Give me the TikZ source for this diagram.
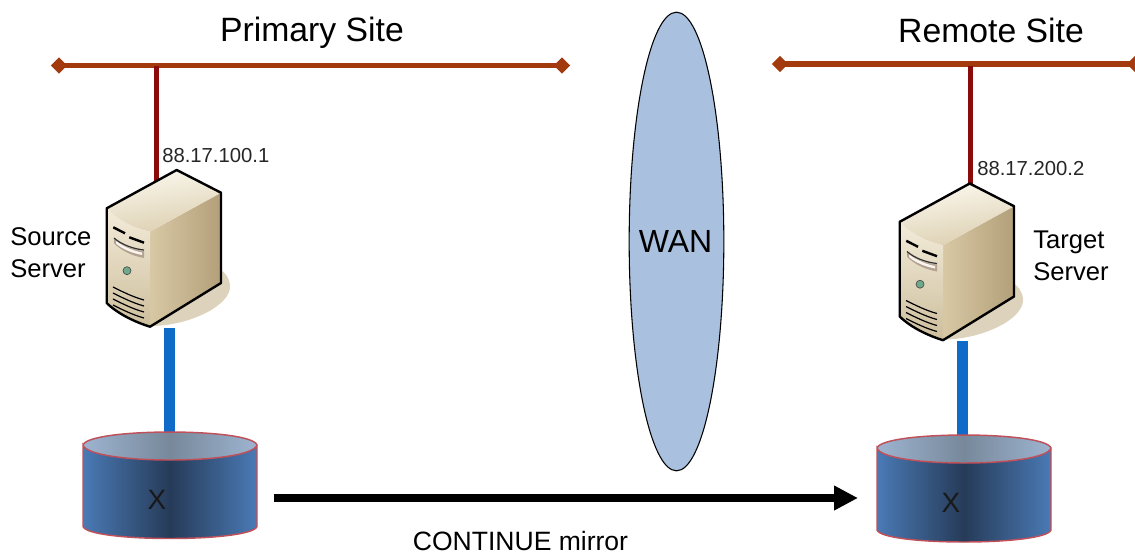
\documentclass[tikz,border=0pt]{standalone}
\usepackage{fontspec}
\setmainfont{Liberation Sans}
\usetikzlibrary{shapes.geometric,arrows.meta}
\definecolor{busc}{HTML}{A33A0E}
\definecolor{dropc}{HTML}{8B0A0A}
\definecolor{linkc}{HTML}{0F6BC8}
\definecolor{shadowc}{HTML}{DDD3BC}
\definecolor{toplight}{HTML}{FBF8EE}
\definecolor{topdark}{HTML}{DCCFB0}
\definecolor{sidedark}{HTML}{D8C8A4}
\definecolor{sidelight}{HTML}{B3A07A}
\definecolor{frontlight}{HTML}{F3ECDA}
\definecolor{frontdark}{HTML}{CDBE9C}
\definecolor{rimc}{HTML}{C0505A}
\definecolor{cyledge}{HTML}{4A7AB5}
\definecolor{cylmid}{HTML}{263B58}
\definecolor{capedge}{HTML}{9DB4D0}
\definecolor{capmid}{HTML}{77889A}
\definecolor{wanc}{HTML}{A9C0DE}
\definecolor{ledc}{HTML}{6FA98A}
\tikzset{
 x=0.75pt,y=-0.75pt,
 bus/.style={busc,line width=4pt},
 dropline/.style={dropc,line width=4pt},
 linkline/.style={linkc,line width=8pt},
 endmark/.style={diamond,fill=busc,minimum size=12.5pt,inner sep=0pt},
 title/.style={font=\fontsize{25.3}{30}\selectfont,inner sep=0pt},
 lab/.style={font=\fontsize{19.2}{24}\selectfont,align=left,inner sep=0pt},
 ip/.style={font=\fontsize{15.2}{18}\selectfont,inner sep=0pt,text=black!85},
 disklabel/.style={font=\fontsize{21}{25}\selectfont,inner sep=0pt,text=black!90},
 pics/server/.style={code={
  \fill[shadowc] (150,326) .. controls (190,326) and (232,305) .. (230,285) .. controls (228,270) and (215,265) .. (200,265) -- cycle;
  \shade[left color=sidedark,right color=sidelight] (150,231.7) -- (221,192.7) -- (221,283) -- (150,326.7) -- cycle;
  \shade[top color=frontlight,bottom color=frontdark] (106.7,208.3) .. controls (120,222) and (135,228) .. (150,231.7) -- (150,326.7) .. controls (135,322) and (118,314) .. (106.7,303) -- cycle;
  \shade[left color=toplight,right color=topdark,shading angle=10] (106.7,208.3) -- (176.7,170) -- (221,192.7) -- (150,231.7) .. controls (135,228) and (120,222) .. (106.7,208.3) -- cycle;
  \draw[black,line width=1.8pt,line join=round] (106.7,208.3) -- (176.7,170) -- (221,192.7) -- (221,283) -- (150,326.7) .. controls (135,322) and (118,314) .. (106.7,303) -- cycle;
  \draw[black,line width=1.8pt] (113.3,227.3) -- (125,233.3);
  \draw[black,line width=1.8pt] (129.3,237.3) -- (144,242.7);
  \fill[black!45!brown!50!white] (114,238) .. controls (122,246) and (134,250) .. (144,251) -- (144,258) .. controls (132,256) and (120,250) .. (114,243) -- cycle;
  \draw[black!80,line width=0.9pt] (114,238) .. controls (122,245) and (134,249) .. (144,250);
  \fill[white!92!brown] (116,241) .. controls (124,247) and (134,251) .. (142,252.5) -- (142,255) .. controls (132,253) and (122,249) .. (116,243.5) -- cycle;
  \fill[ledc,draw=black!70,line width=0.5pt] (127,270.7) circle (4);
  \foreach \d in {0,6,12,18}{\draw[black,line width=0.9pt] (113,287+\d) .. controls (123,292+\d) and (133,297+\d) .. (144,300+\d);}
 }},
}
\newcommand{\drum}[4]{% left, right, rim y, lower rim y
 \shade[left color=cyledge,right color=cyledge,middle color=cylmid]
   (#1,#3) -- (#1,#4) .. controls (#1+6,#4+16) and (#2-6,#4+16) .. (#2,#4) -- (#2,#3) -- cycle;
 \shade[left color=capedge,right color=capedge,middle color=capmid]
   (#1,#3) .. controls (#1+6,#3-17.3) and (#2-6,#3-17.3) .. (#2,#3) .. controls (#2-6,#3+20) and (#1+6,#3+20) .. (#1,#3) -- cycle;
 \draw[rimc,line width=1.1pt] (#1,#3) .. controls (#1+6,#3-17.3) and (#2-6,#3-17.3) .. (#2,#3) .. controls (#2-6,#3+20) and (#1+6,#3+20) .. (#1,#3) -- (#1,#4) .. controls (#1+6,#4+16) and (#2-6,#4+16) .. (#2,#4) -- (#2,#3);
}
\begin{document}
\begin{tikzpicture}
\useasboundingbox (0,0) rectangle (1135,554);
% buses
\node[endmark] (pl) at (59,65.5) {};
\node[endmark] (pr) at (562,65.5) {};
\node[endmark] (rl) at (780,64) {};
\node[endmark] (rr) at (1135,64) {};
\draw[bus] (pl.center) -- (pr.center);
\draw[bus] (rl.center) -- (rr.center);
\coordinate (ptap) at (156.5,65.5);
\coordinate (rtap) at (970.5,66);
\coordinate (ptop) at (156.5,190);
\coordinate (rtop) at (970.5,195);
\draw[dropline] (ptap) -- (ptop);
\draw[dropline] (rtap) -- (rtop);
% links
\coordinate (s1) at (169.5,328);
\coordinate (d1) at (169.5,436);
\coordinate (s2) at (962.5,341);
\coordinate (d2) at (962.5,440);
\draw[linkline] (s1) -- (d1);
\draw[linkline] (s2) -- (d2);
% servers
\pic at (0,0) {server};
\pic at (793,13.5) {server};
% disks
\drum{83}{257}{445}{526.5}
\drum{877}{1051}{448}{530}
\node[disklabel] (x1) at (157,500) {X};
\node[disklabel] (x2) at (951,503) {X};
% WAN
\node[ellipse,draw=black,fill=wanc,line width=0.8pt,minimum width=71pt,minimum height=344pt,inner sep=0pt] (wan) at (676.5,241.5) {};
\node[font=\fontsize{24}{28}\selectfont,inner sep=0pt] (wanlabel) at (675.5,241.5) {WAN};
% arrow
\coordinate (ma) at (274,498);
\coordinate (mb) at (858,498);
\draw[black,line width=6pt,-{Triangle[length=18pt,width=17.5pt]}] (ma) -- (mb);
% text
\node[title] (t1) at (312,33) {Primary Site};
\node[title] (t2) at (991,30) {Remote Site};
\node[ip,anchor=west] (ip1) at (162,156) {88.17.100.1};
\node[ip,anchor=west] (ip2) at (977,169) {88.17.200.2};
\node[lab,anchor=west] (srclab) at (10,253) {Source\\Server};
\node[lab,anchor=west] (tgtlab) at (1033,256) {Target\\Server};
\node[font=\fontsize{19.9}{23}\selectfont,inner sep=0pt] (mirror) at (520.5,541) {CONTINUE mirror};
\end{tikzpicture}
\end{document}
